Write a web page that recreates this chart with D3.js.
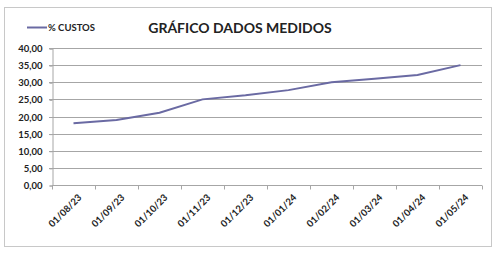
<!DOCTYPE html>
<html>
<head>
<meta charset="utf-8">
<script src="https://cdn.jsdelivr.net/npm/d3@7"></script>
<style>
  body { margin: 0; background: #fff; }
  text { font-family: Lato, "Open Sans", sans-serif; font-weight: bold; fill: #222; }
</style>
</head>
<body>
<div id="chart"></div>
<script>
// data
const categories = ['01/08/23', '01/09/23', '01/10/23', '01/11/23', '01/12/23',
  '01/01/24', '01/02/24', '01/03/24', '01/04/24', '01/05/24'];
const custos = [18.0, 19.0, 21.1, 25.0, 26.2, 27.7, 30.0, 31.0, 32.1, 35.0];
const yTicks = [0, 5, 10, 15, 20, 25, 30, 35, 40];
const seriesName = '% CUSTOS';
const title = 'GRÁFICO DADOS MEDIDOS';

const width = 501, height = 257;
const margins = {top: 48, right: 19, bottom: 72, left: 52};
const lineColor = '#6a6aa3';
const gridColor = '#a6a6a6';

const svg = d3.select('#chart').append('svg')
  .attr('width', width)
  .attr('height', height);

// outer chart border
svg.append('rect')
  .attr('x', 4.5).attr('y', 7.5)
  .attr('width', 487).attr('height', 239)
  .attr('fill', 'none')
  .attr('stroke', '#c8c8c8');

const x = d3.scaleBand()
  .domain(categories)
  .range([margins.left, width - margins.right])
  .padding(0);

const y = d3.scaleLinear()
  .domain([0, 40])
  .range([height - margins.bottom, margins.top]);

// gridlines
svg.append('g')
  .selectAll('line')
  .data(yTicks.filter(d => d > 0))
  .enter()
  .append('line')
  .attr('x1', margins.left - 3)
  .attr('x2', width - margins.right)
  .attr('y1', d => Math.round(y(d)) + 0.5)
  .attr('y2', d => Math.round(y(d)) + 0.5)
  .attr('stroke', gridColor);

// y axis
const yAxis = svg.append('g')
  .attr('transform', `translate(${margins.left + 0.5},0.5)`)
  .call(d3.axisLeft(y).tickValues(yTicks).tickSize(3).tickPadding(7)
    .tickFormat(d => d3.format('.2f')(d).replace('.', ',')));
yAxis.select('.domain').attr('stroke', gridColor);
yAxis.selectAll('.tick line').attr('stroke', gridColor);
yAxis.selectAll('text').style('font-size', '9.5px').attr('fill', '#222');

// x axis, ticks on band boundaries
const xAxis = svg.append('g')
  .attr('transform', `translate(0,${Math.round(y(0)) + 0.5})`);
xAxis.append('line')
  .attr('x1', margins.left).attr('x2', width - margins.right)
  .attr('stroke', gridColor);
xAxis.selectAll('.tk')
  .data(categories.concat(['end']))
  .enter()
  .append('line')
  .attr('x1', (d, i) => Math.round(i < categories.length ? x(d) : x.range()[1]) + 0.5)
  .attr('x2', (d, i) => Math.round(i < categories.length ? x(d) : x.range()[1]) + 0.5)
  .attr('y1', 0).attr('y2', 4)
  .attr('stroke', gridColor);
xAxis.selectAll('.lbl')
  .data(categories)
  .enter()
  .append('text')
  .attr('transform', d => `translate(${x(d) + x.bandwidth() / 2 + 4},${8}) rotate(-45)`)
  .attr('text-anchor', 'end')
  .attr('dy', '0.7em')
  .style('font-size', '9.5px')
  .text(d => d);

// series line
const line = d3.line()
  .x((d, i) => x(categories[i]) + x.bandwidth() / 2)
  .y(d => y(d));

svg.append('path')
  .datum(custos)
  .attr('d', line)
  .attr('fill', 'none')
  .attr('stroke', lineColor)
  .attr('stroke-width', 2);

// legend
svg.append('line')
  .attr('x1', 27).attr('x2', 47)
  .attr('y1', 27.5).attr('y2', 27.5)
  .attr('stroke', lineColor)
  .attr('stroke-width', 2);
svg.append('text')
  .attr('x', 48).attr('y', 31)
  .style('font-size', '9.5px')
  .text(seriesName);

// title
svg.append('text')
  .attr('x', 240).attr('y', 33)
  .attr('text-anchor', 'middle')
  .style('font-size', '14px')
  .text(title);
</script>
</body>
</html>
